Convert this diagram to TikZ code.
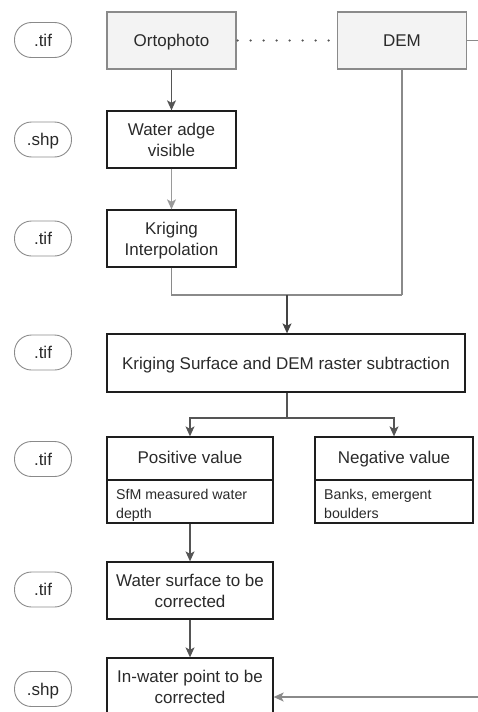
\documentclass[tikz,border=0pt]{standalone}
\usepackage{fontspec}
\setmainfont{Liberation Sans}
\usetikzlibrary{arrows.meta}
\definecolor{txt}{HTML}{2A2A2A}
\definecolor{boxline}{HTML}{1E1E1E}
\definecolor{grayline}{HTML}{8A8A8A}
\definecolor{grayfill}{HTML}{F3F3F3}
\definecolor{arrowc}{HTML}{555555}
\definecolor{lightarrow}{HTML}{9A9A9A}
\begin{document}
\begin{tikzpicture}[x=1pt,y=-1pt,
  mainfont/.style={font=\fontsize{17}{21}\selectfont, text height=12.2pt, text depth=0pt},
  twolines/.style={text height=33.2pt, text depth=0pt},
  smallfont/.style={font=\fontsize{14.2}{19}\selectfont},
  box/.style={draw=boxline, line width=1.3pt, text=txt, align=center, mainfont, inner sep=0pt},
  srcbox/.style={draw=grayline, fill=grayfill, line width=1.1pt, text=txt, mainfont, inner sep=0pt, minimum width=129pt, minimum height=57pt},
  pill/.style={draw=grayline, line width=0.9pt, rounded corners=17pt, text=txt, mainfont, inner sep=0pt, minimum width=57pt, minimum height=35pt},
  arr/.style={draw=arrowc, line width=1.2pt, -{Stealth[length=10pt,width=9pt,inset=2.5pt]}},
  plainline/.style={draw=grayline, line width=1.2pt},
  dotline/.style={draw=arrowc, line width=2.4pt, line cap=round, dash pattern=on 0pt off 13pt}
]
\useasboundingbox (0,0) rectangle (478,712);

% file-type pills
\node[pill] (p1) at (43,40) {.tif};
\node[pill] (p2) at (43,139.5) {.shp};
\node[pill] (p3) at (43,238.5) {.tif};
\node[pill] (p4) at (43,352.5) {.tif};
\node[pill] (p5) at (43,459) {.tif};
\node[pill] (p6) at (43,589.5) {.tif};
\node[pill] (p7) at (43,689) {.shp};

% source boxes
\node[srcbox] (orto) at (171.5,40.5) {Ortophoto};
\node[srcbox] (dem) at (402,40.5) {DEM};

% process boxes
\node[box, twolines, minimum width=129pt, minimum height=57pt] (wae) at (171.5,139.5) {Water adge\\visible};
\node[box, twolines, minimum width=129pt, minimum height=57pt] (ki) at (171.5,238.5) {Kriging\\Interpolation};
\node[box, minimum width=358pt, minimum height=58pt] (ks) at (286,363) {Kriging Surface and DEM raster subtraction};

\node[box, minimum width=166pt, minimum height=86pt] (pos) at (190,480) {};
\node[box, minimum width=158pt, minimum height=86pt] (neg) at (394,480) {};
\draw[boxline, line width=1.3pt] (pos.west) -- (pos.east);
\draw[boxline, line width=1.3pt] (neg.west) -- (neg.east);
\node[text=txt, mainfont, inner sep=0pt] (post) at (190,457.5) {Positive value};
\node[text=txt, mainfont, inner sep=0pt] (negt) at (394,457.5) {Negative value};
\node[text=txt, smallfont, inner sep=0pt, align=left, anchor=north west] (posb) at (116,489) {SfM measured water\\depth};
\node[text=txt, smallfont, inner sep=0pt, align=left, anchor=north west] (negb) at (324,489) {Banks, emergent\\boulders};

\node[box, twolines, minimum width=166pt, minimum height=57pt] (ws) at (190,590.5) {Water surface to be\\corrected};
\node[box, minimum width=166pt, minimum height=58pt] (iw) at (190,687) {};
\node[text=txt, mainfont, twolines, inner sep=0pt, align=center] (iwt) at (190,687) {In-water point to be\\corrected};

% connectors
\coordinate (demr) at (480,40.5);
\draw[plainline] (dem.east) -- (demr);
\draw[dotline] ([xshift=1pt]orto.east) -- ([xshift=-1pt]dem.west);

\draw[arr] (orto.south) -- (wae.north);
\draw[arr, draw=lightarrow] (wae.south) -- (ki.north);

\coordinate (jl) at (171.5,295);
\coordinate (jr) at (402,295);
\coordinate (jm) at (287,295);
\draw[plainline] (ki.south) -- (jl) -- (jr);
\draw[plainline] (dem.south) -- (jr);
\draw[arr, draw=arrowc!80!black] (jm) -- (jm |- ks.north);

\coordinate (sp) at (287,418);
\draw[plainline, draw=arrowc] (sp |- ks.south) -- (sp);
\draw[arr] (sp) -| (pos.north);
\draw[arr] (sp) -| (neg.north);

\draw[arr] (pos.south) -- (ws.north);
\draw[arr] (ws.south) -- (iw.north);

\coordinate (inr) at (480,697);
\draw[arr, draw=grayline] (inr) -- (iw.east |- inr);
\end{tikzpicture}
\end{document}
